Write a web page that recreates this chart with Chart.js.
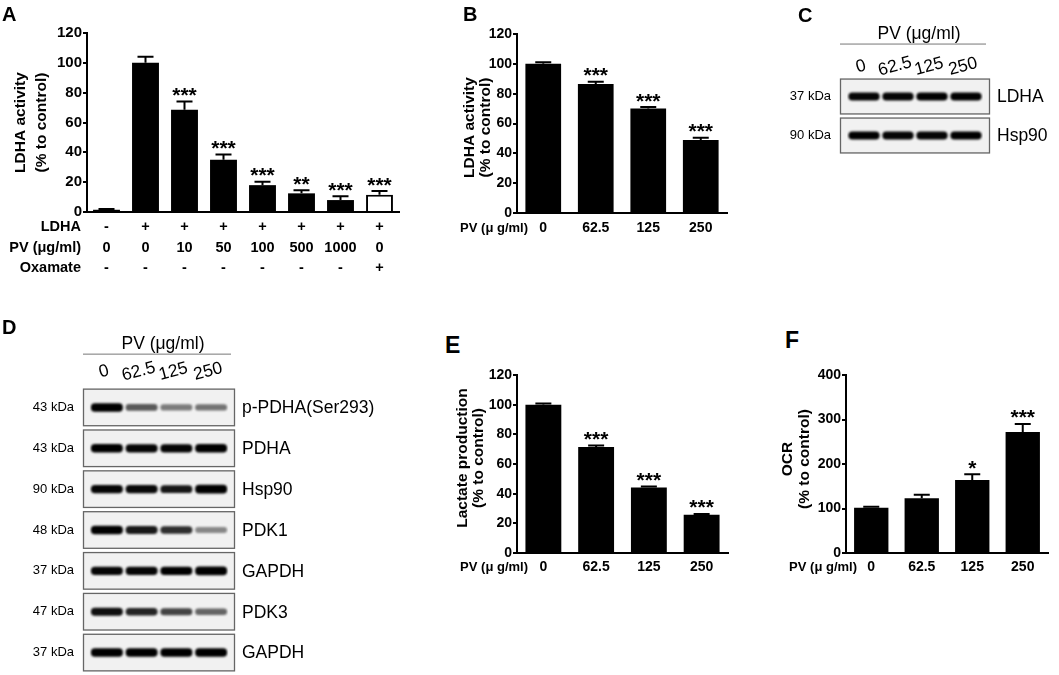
<!DOCTYPE html>
<html><head><meta charset="utf-8">
<script src="https://cdn.jsdelivr.net/npm/chart.js@4.4.1/dist/chart.umd.min.js"></script>
<style>
html,body{margin:0;padding:0;background:#fff;}
#fig{position:relative;width:1059px;height:675px;overflow:hidden;background:#fff;font-family:"Liberation Sans",Arial,sans-serif;}
#fig canvas{position:absolute;}
.lt{position:absolute;font-weight:bold;line-height:1;color:#000;font-family:"Liberation Sans",Arial,sans-serif;}
</style></head><body><div id="fig"></div>
<script>
// ---------------- DATA ----------------
// Panel A
const aLdhaRow = ['-','+','+','+','+','+','+','+'];
const aPvRow   = ['0','0','10','50','100','500','1000','0'];
const aOxRow   = ['-','-','-','-','-','-','-','+'];
const aRowNames = ['LDHA','PV (\u03bcg/ml)','Oxamate'];
const aValues = [1.5,100,68.5,35,18,12.5,8,11.5];
const aErrors = [0.5,4,5.5,3.5,2.3,2,2.5,2.5];
const aStars  = ['','','***','***','***','**','***','***'];
const aTicks  = [0,20,40,60,80,100,120];
// Panels B, E, F
const doseLabels = ['0','62.5','125','250'];
const pctTicks = [0,20,40,60,80,100,120];
const bValues = [100,86.5,70,49];
const bErrors = [1,1.5,1,1.5];
const bStars  = ['','***','***','***'];
const eValues = [100,71.5,44.2,25.8];
const eErrors = [0.8,1,0.6,0.5];
const eStars  = ['','***','***','***'];
const fValues = [101.5,123,164,272];
const fErrors = [2.5,8,13,18];
const fStars  = ['','','*','***'];
const fTicks  = [0,100,200,300,400];
// Western blots (relative band intensity 0..1)
const cRows = ['LDHA','Hsp90'];
const cKda  = ['37 kDa','90 kDa'];
const cBands = [[0.9,0.9,0.95,1],[0.95,0.9,0.9,0.92]];
const dRows = ['p-PDHA(Ser293)','PDHA','Hsp90','PDK1','GAPDH','PDK3','GAPDH'];
const dKda  = ['43 kDa','43 kDa','90 kDa','48 kDa','37 kDa','47 kDa','37 kDa'];
const dBands = [[1,0.5,0.35,0.38],[0.95,0.9,0.9,1],[0.9,0.88,0.82,1],[1,0.8,0.7,0.3],[0.9,0.9,0.95,1],[0.85,0.75,0.6,0.45],[1,0.95,0.95,1]];

// ---------------- HELPERS ----------------
const FONT = '"Liberation Sans", Arial, sans-serif';
const fig = document.getElementById('fig');
function addCanvas(l,t,w,h){
  const c=document.createElement('canvas');
  c.style.left=l+'px'; c.style.top=t+'px';
  c.width=w; c.height=h; c.style.width=w+'px'; c.style.height=h+'px';
  fig.appendChild(c); return c;
}
function letter(ch,x,capTop,size){
  const d=document.createElement('div'); d.className='lt'; d.textContent=ch;
  d.style.left=x+'px'; d.style.top=(capTop-0.13*size)+'px'; d.style.fontSize=size+'px';
  fig.appendChild(d);
}

function barPanel(o){
  const top=15, right=o.rightPad||15;
  const W=o.leftSpace+(o.r-o.l)+right, H=top+(o.b-o.t)+o.bottomSpace;
  const cv=addCanvas(o.l-o.leftSpace,o.t-top,W,H);
  const lh=o.lh||o.xFont*1.4;
  const extras={
    id:'extras',
    afterDatasetsDraw(chart){
      const ctx=chart.ctx, ys=chart.scales.y, meta=chart.getDatasetMeta(0);
      ctx.save(); ctx.strokeStyle='#000'; ctx.lineWidth=2; ctx.fillStyle='#000';
      meta.data.forEach((bar,i)=>{
        const y0=ys.getPixelForValue(o.values[i]);
        const y1=ys.getPixelForValue(o.values[i]+o.errors[i]);
        ctx.beginPath(); ctx.moveTo(bar.x,y0); ctx.lineTo(bar.x,y1);
        ctx.moveTo(bar.x-o.cap,y1); ctx.lineTo(bar.x+o.cap,y1); ctx.stroke();
        if(o.stars[i]){
          ctx.font='bold 21px '+FONT; ctx.textAlign='center'; ctx.textBaseline='alphabetic';
          ctx.fillText(o.stars[i],bar.x,y1+0.5);
        }
      });
      ctx.restore();
    },
    afterDraw(chart){
      const ctx=chart.ctx, ca=chart.chartArea;
      ctx.save(); ctx.fillStyle='#000';
      ctx.font='bold '+o.titleSize+'px '+FONT; ctx.textAlign='center'; ctx.textBaseline='middle';
      const yc=(ca.top+ca.bottom)/2+(o.titleDy||0);
      o.title.forEach((line,k)=>{
        ctx.save(); ctx.translate(ca.left+o.titleX[k],yc); ctx.rotate(-Math.PI/2);
        ctx.fillText(line,0,0); ctx.restore();
      });
      ctx.font='bold '+o.xFont+'px '+FONT; ctx.textAlign='right';
      if(o.rowNames){
        o.rowNames.forEach((nm,k)=>ctx.fillText(nm,ca.left-6,ca.bottom+o.xPad+lh*(k+0.5)));
      }
      if(o.xTitle){
        ctx.font='bold 13px '+FONT;
        ctx.fillText(o.xTitle,ca.left+11,ca.bottom+o.xPad+lh*0.5);
      }
      ctx.restore();
    }
  };
  new Chart(cv,{
    type:'bar',
    data:{labels:o.labels,datasets:[{
      data:o.values,
      backgroundColor:o.colors||'#000',
      borderColor:'#000',
      borderWidth:o.borderWidths||0,
      barPercentage:o.barPct, categoryPercentage:1
    }]},
    options:{
      responsive:false, animation:false, events:[],
      layout:{padding:{left:0,top:top,right:right,bottom:0}},
      plugins:{legend:{display:false},tooltip:{enabled:false}},
      scales:{
        x:{
          grid:{display:true,drawOnChartArea:false,drawTicks:false},
          border:{color:'#000',width:2},
          ticks:{color:'#000',padding:o.xPad,maxRotation:0,autoSkip:false,
                 font:{family:FONT,size:o.xFont,weight:'bold',lineHeight:lh/o.xFont}},
          afterFit(s){s.height=o.bottomSpace;}
        },
        y:{
          min:0,max:o.ticks[o.ticks.length-1],
          afterBuildTicks(s){s.ticks=o.ticks.map(v=>({value:v}));},
          grid:{drawOnChartArea:false,drawTicks:true,tickLength:4,color:'#000',lineWidth:2},
          border:{color:'#000',width:2},
          ticks:{color:'#000',padding:1,font:{family:FONT,size:o.yFont,weight:'bold'}},
          afterFit(s){s.width=o.leftSpace;}
        }
      }
    },
    plugins:[extras]
  });
}

function blotPanel(o){
  const cv=addCanvas(o.cl,o.ct,o.cw,o.ch);
  const n=o.rows.length;
  const datasets=o.bands.map((vals,i)=>({
    data:vals.map(v=>[i+0.5-(0.06+0.045*v), i+0.5+(0.06+0.045*v)]),
    backgroundColor:vals.map(v=>'rgba(0,0,0,'+Math.min(1,0.12+0.95*Math.pow(v,0.9)).toFixed(2)+')'),
    borderWidth:0, borderRadius:4, borderSkipped:false, grouped:false,
    barPercentage:0.92, categoryPercentage:1
  }));
  const plug={
    id:'blot',
    beforeDatasetsDraw(chart){
      const ctx=chart.ctx, ys=chart.scales.y, xs=chart.scales.x, ca=chart.chartArea;
      const x0=ca.left-o.margin, x1=ca.right+o.margin;
      ctx.save();
      for(let i=0;i<n;i++){
        const y0=ys.getPixelForValue(i+0.04), y1=ys.getPixelForValue(i+0.96);
        ctx.fillStyle='#f1f1f1'; ctx.fillRect(x0,y0,x1-x0,y1-y0);
        ctx.strokeStyle='#666'; ctx.lineWidth=1.3; ctx.strokeRect(x0+0.5,y0+0.5,x1-x0-1,y1-y0-1);
        const yc=ys.getPixelForValue(i+0.5);
        ctx.fillStyle='#000'; ctx.textBaseline='middle';
        ctx.font='13px '+FONT; ctx.textAlign='right'; ctx.fillText(o.kda[i],x0-9,yc);
        ctx.font='17.5px '+FONT; ctx.textAlign='left'; ctx.fillText(o.rows[i],x1+7,yc+1);
      }
      // header
      const boxTop=ys.getPixelForValue(0.04);
      ctx.fillStyle='#000'; ctx.font='17.5px '+FONT; ctx.textAlign='center'; ctx.textBaseline='middle';
      ctx.fillText('PV (\u03bcg/ml)',(x0+x1)/2+4,boxTop-44);
      ctx.strokeStyle='#777'; ctx.lineWidth=1;
      ctx.beginPath(); ctx.moveTo(x0,boxTop-34.5); ctx.lineTo(x1-4,boxTop-34.5); ctx.stroke();
      o.lanes.forEach((lb,i)=>{
        ctx.save(); ctx.translate(xs.getPixelForValue(i)-3,boxTop-o.laneDy);
        ctx.rotate(-15*Math.PI/180); ctx.fillText(lb,0,0); ctx.restore();
      });
      ctx.restore();
      ctx.save(); ctx.filter='blur(0.9px)';
    },
    afterDatasetsDraw(chart){ chart.ctx.restore(); }
  };
  new Chart(cv,{
    type:'bar',
    data:{labels:o.lanes,datasets:datasets},
    options:{
      responsive:false, animation:false, events:[],
      layout:{padding:{left:o.l-o.cl,right:o.cl+o.cw-o.r,top:o.t-o.ct,bottom:o.ct+o.ch-o.b}},
      plugins:{legend:{display:false},tooltip:{enabled:false}},
      scales:{
        x:{display:false,offset:true},
        y:{display:false,min:0,max:n,reverse:true}
      }
    },
    plugins:[plug]
  });
}

// ---------------- PANELS ----------------
barPanel({
  l:87,r:399,t:33,b:212,leftSpace:87,bottomSpace:72,
  labels:aLdhaRow.map((v,i)=>[v,aPvRow[i],aOxRow[i]]),
  values:aValues,errors:aErrors,stars:aStars,ticks:aTicks,
  colors:aValues.map((v,i)=>i===aValues.length-1?'#fff':'#000'),
  borderWidths:aValues.map((v,i)=>i===aValues.length-1?2:0),
  barPct:0.69,cap:8,xFont:14.5,yFont:15,lh:20.5,xPad:5,
  title:['LDHA activity','(% to control)'],titleX:[-66,-45],titleSize:15.5,titleDy:0,
  rowNames:aRowNames
});
barPanel({
  l:517,r:727,t:34,b:213,leftSpace:77,bottomSpace:30,
  labels:doseLabels,values:bValues,errors:bErrors,stars:bStars,ticks:pctTicks,
  barPct:0.68,cap:8,xFont:14,yFont:14,lh:18,xPad:6,
  title:['LDHA activity','(% to control)'],titleX:[-47,-31],titleSize:15.5,titleDy:4,
  xTitle:'PV (\u03bc g/ml)'
});
barPanel({
  l:517,r:728,t:375,b:553,leftSpace:77,bottomSpace:30,
  labels:doseLabels,values:eValues,errors:eErrors,stars:eStars,ticks:pctTicks,
  barPct:0.68,cap:8,xFont:14,yFont:14,lh:18,xPad:5,
  title:['Lactate production','(% to control)'],titleX:[-54,-38],titleSize:15.5,titleDy:-6,
  xTitle:'PV (\u03bc g/ml)'
});
barPanel({
  l:846,r:1048,t:375,b:553,leftSpace:76,bottomSpace:30,rightPad:11,
  labels:doseLabels,values:fValues,errors:fErrors,stars:fStars,ticks:fTicks,
  barPct:0.68,cap:8,xFont:14,yFont:14,lh:18,xPad:5,
  title:['OCR','(% to control)'],titleX:[-58,-41],titleSize:15.5,titleDy:-5,
  xTitle:'PV (\u03bc g/ml)'
});
blotPanel({
  cl:760,ct:0,cw:299,ch:170,l:847,r:983,t:77,b:155,margin:7,laneDy:12,
  rows:cRows,kda:cKda,bands:cBands,lanes:doseLabels
});
blotPanel({
  cl:0,ct:320,cw:420,ch:355,l:89.5,r:228.5,t:387,b:673,margin:6.5,laneDy:17,
  rows:dRows,kda:dKda,bands:dBands,lanes:doseLabels
});

letter('A',2,7,20); letter('B',463,7,20); letter('C',798,8,20);
letter('D',2,320,20); letter('E',445,337,23); letter('F',785,332,23);
</script>
</body></html>
